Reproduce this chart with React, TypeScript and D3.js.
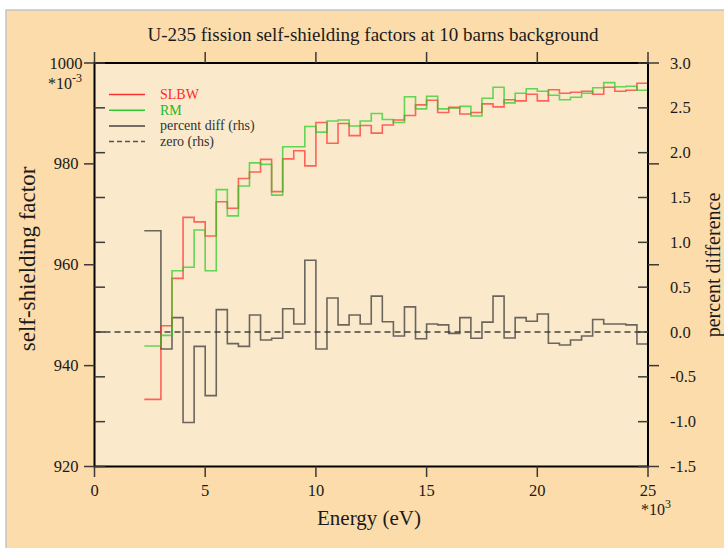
import React from "react";
import * as d3 from "d3";

const binStarts = [2.25, 3.0, 3.5, 4.0, 4.5, 5.0, 5.5, 6.0, 6.5, 7.0, 7.5, 8.0, 8.5, 9.0, 9.5, 10.0, 10.5, 11.0, 11.5, 12.0, 12.5, 13.0, 13.5, 14.0, 14.5, 15.0, 15.5, 16.0, 16.5, 17.0, 17.5, 18.0, 18.5, 19.0, 19.5, 20.0, 20.5, 21.0, 21.5, 22.0, 22.5, 23.0, 23.5, 24.0, 24.5];
const lastEdge = 25.0;

const slbw = [933.3, 947.9, 957.3, 969.4, 968.5, 965.7, 972.5, 971.2, 977.1, 978.4, 980.9, 974.5, 981.0, 982.6, 979.6, 988.2, 984.1, 988.0, 985.6, 987.6, 986.1, 987.7, 988.7, 989.6, 991.7, 992.6, 990.2, 991.2, 989.9, 990.2, 991.9, 991.3, 992.7, 992.5, 993.8, 992.5, 994.7, 994.0, 994.2, 994.4, 993.8, 995.2, 994.4, 994.6, 996.0];
const rm = [943.9, 946.0, 958.8, 959.5, 966.9, 958.8, 974.9, 969.7, 975.6, 980.2, 979.9, 973.8, 983.4, 983.4, 987.4, 986.3, 988.5, 988.7, 987.5, 988.5, 990.0, 988.8, 988.2, 993.3, 990.9, 993.4, 990.9, 991.1, 991.4, 989.5, 993.0, 995.2, 992.1, 994.0, 994.9, 994.4, 993.6, 992.7, 993.2, 994.0, 995.1, 996.1, 995.3, 995.4, 994.6];
const pctDiff = [1.13, -0.19, 0.16, -1.01, -0.16, -0.71, 0.25, -0.13, -0.16, 0.19, -0.09, -0.07, 0.26, 0.09, 0.8, -0.19, 0.38, 0.08, 0.19, 0.09, 0.4, 0.115, -0.045, 0.28, -0.075, 0.09, 0.08, -0.015, 0.16, -0.07, 0.11, 0.4, -0.067, 0.16, 0.12, 0.2, -0.126, -0.145, -0.09, -0.045, 0.14, 0.09, 0.09, 0.08, -0.134];

const xTicks = [0, 5, 10, 15, 20, 25];
const yLeftTicks = [920, 940, 960, 980, 1000];
const yRightTicks = [-1.5, -1.0, -0.5, 0.0, 0.5, 1.0, 1.5, 2.0, 2.5, 3.0];

const legendItems = [
  { label: "SLBW", color: "#ff3030", text: "#ff2a2a", dash: "" },
  { label: "RM", color: "#30c830", text: "#22bb22", dash: "" },
  { label: "percent diff (rhs)", color: "#444", text: "#333", dash: "" },
  { label: "zero (rhs)", color: "#555", text: "#333", dash: "5,3" },
];

const FONT = "'Liberation Serif', 'DejaVu Serif', serif";

export default function App() {
  const L = 94.5, R = 648, T = 63, B = 466.5;
  const x = d3.scaleLinear().domain([0, 25]).range([L, R]);
  const yL = d3.scaleLinear().domain([920, 1000]).range([B, T]);
  const yR = d3.scaleLinear().domain([-1.5, 3]).range([B, T]);

  const stepPts = (vals: number[]) => {
    const pts: [number, number][] = binStarts.map((e, i) => [e, vals[i]]);
    pts.push([lastEdge, vals[vals.length - 1]]);
    return pts;
  };
  const lineL = d3.line<[number, number]>().x(d => x(d[0])).y(d => yL(d[1])).curve(d3.curveStepAfter);
  const lineR = d3.line<[number, number]>().x(d => x(d[0])).y(d => yR(d[1])).curve(d3.curveStepAfter);

  const tickColor = "#3a3a3a";

  return (
    <svg width={724} height={548} style={{ position: "absolute", left: 0, top: 0 }} fontFamily={FONT}>
      <rect x={0} y={0} width={724} height={548} fill="#ffffff" />
      <rect x={6} y={10} width={730} height={560} fill="#fcdcaa" stroke="#c4c4c4" strokeWidth={1.5} />
      <rect x={L} y={T} width={R - L} height={B - T} fill="#fae9cb" />

      <text x={373} y={41} textAnchor="middle" fontSize={19} fill="#1a1a1a">U-235 fission self-shielding factors at 10 barns background</text>

      {/* data */}
      <line x1={L} x2={R} y1={yR(0)} y2={yR(0)} stroke="#444" strokeWidth={1.5} strokeDasharray="6,4" />
      <path d={lineR(stepPts(pctDiff)) || ""} fill="none" stroke="#3a3a3a" strokeOpacity={0.75} strokeWidth={1.6} />
      <path d={lineL(stepPts(slbw)) || ""} fill="none" stroke="#ff2a2a" strokeOpacity={0.7} strokeWidth={1.6} />
      <path d={lineL(stepPts(rm)) || ""} fill="none" stroke="#22cc22" strokeOpacity={0.7} strokeWidth={1.6} />

      {/* legend */}
      {legendItems.map((it, i) => {
        const yy = 94.5 + i * 15.7;
        return (
          <g key={it.label}>
            <line x1={109} x2={145} y1={yy} y2={yy} stroke={it.color} strokeWidth={1.5} strokeDasharray={it.dash} />
            <text x={160} y={yy + 4.5} fontSize={14} fill={it.text}>{it.label}</text>
          </g>
        );
      })}

      {/* frame */}
      <rect x={L} y={T} width={R - L} height={B - T} fill="none" stroke="#000" strokeWidth={2} />

      {/* left ticks */}
      {yLeftTicks.map(v => (
        <g key={"l" + v}>
          <line x1={84} x2={L} y1={yL(v)} y2={yL(v)} stroke={tickColor} strokeWidth={1.5} />
          <line x1={R} x2={659} y1={yL(v)} y2={yL(v)} stroke={tickColor} strokeWidth={1.5} />
          <text x={66} y={yL(v) + 5.5} textAnchor="middle" fontSize={16.5} fill="#1a1a1a">{v}</text>
        </g>
      ))}
      <text x={48} y={89} fontSize={16} fill="#1a1a1a">*10<tspan dy={-7} fontSize={12}>-3</tspan></text>

      {/* right ticks */}
      {yRightTicks.map(v => (
        <g key={"r" + v}>
          <line x1={L} x2={105} y1={yR(v)} y2={yR(v)} stroke={tickColor} strokeWidth={1.5} />
          <line x1={638} x2={R} y1={yR(v)} y2={yR(v)} stroke={tickColor} strokeWidth={1.5} />
          <text x={670} y={yR(v) + 5.5} fontSize={16.5} fill="#1a1a1a">{v.toFixed(1)}</text>
        </g>
      ))}

      {/* x ticks */}
      {xTicks.map(v => (
        <g key={"x" + v}>
          <line x1={x(v)} x2={x(v)} y1={B} y2={477} stroke={tickColor} strokeWidth={1.5} />
          <line x1={x(v)} x2={x(v)} y1={52} y2={T} stroke={tickColor} strokeWidth={1.5} />
          <text x={x(v)} y={496} textAnchor="middle" fontSize={16.5} fill="#1a1a1a">{v}</text>
        </g>
      ))}
      <text x={641} y={515} fontSize={16} fill="#1a1a1a">*10<tspan dy={-7} fontSize={12}>3</tspan></text>

      <text x={369} y={525} textAnchor="middle" fontSize={21} fill="#1a1a1a">Energy (eV)</text>
      <text transform="translate(35,259) rotate(-90)" textAnchor="middle" fontSize={23} fill="#1a1a1a">self-shielding factor</text>
      <text transform="translate(720,265) rotate(-90)" textAnchor="middle" fontSize={20} fill="#1a1a1a">percent difference</text>
    </svg>
  );
}
